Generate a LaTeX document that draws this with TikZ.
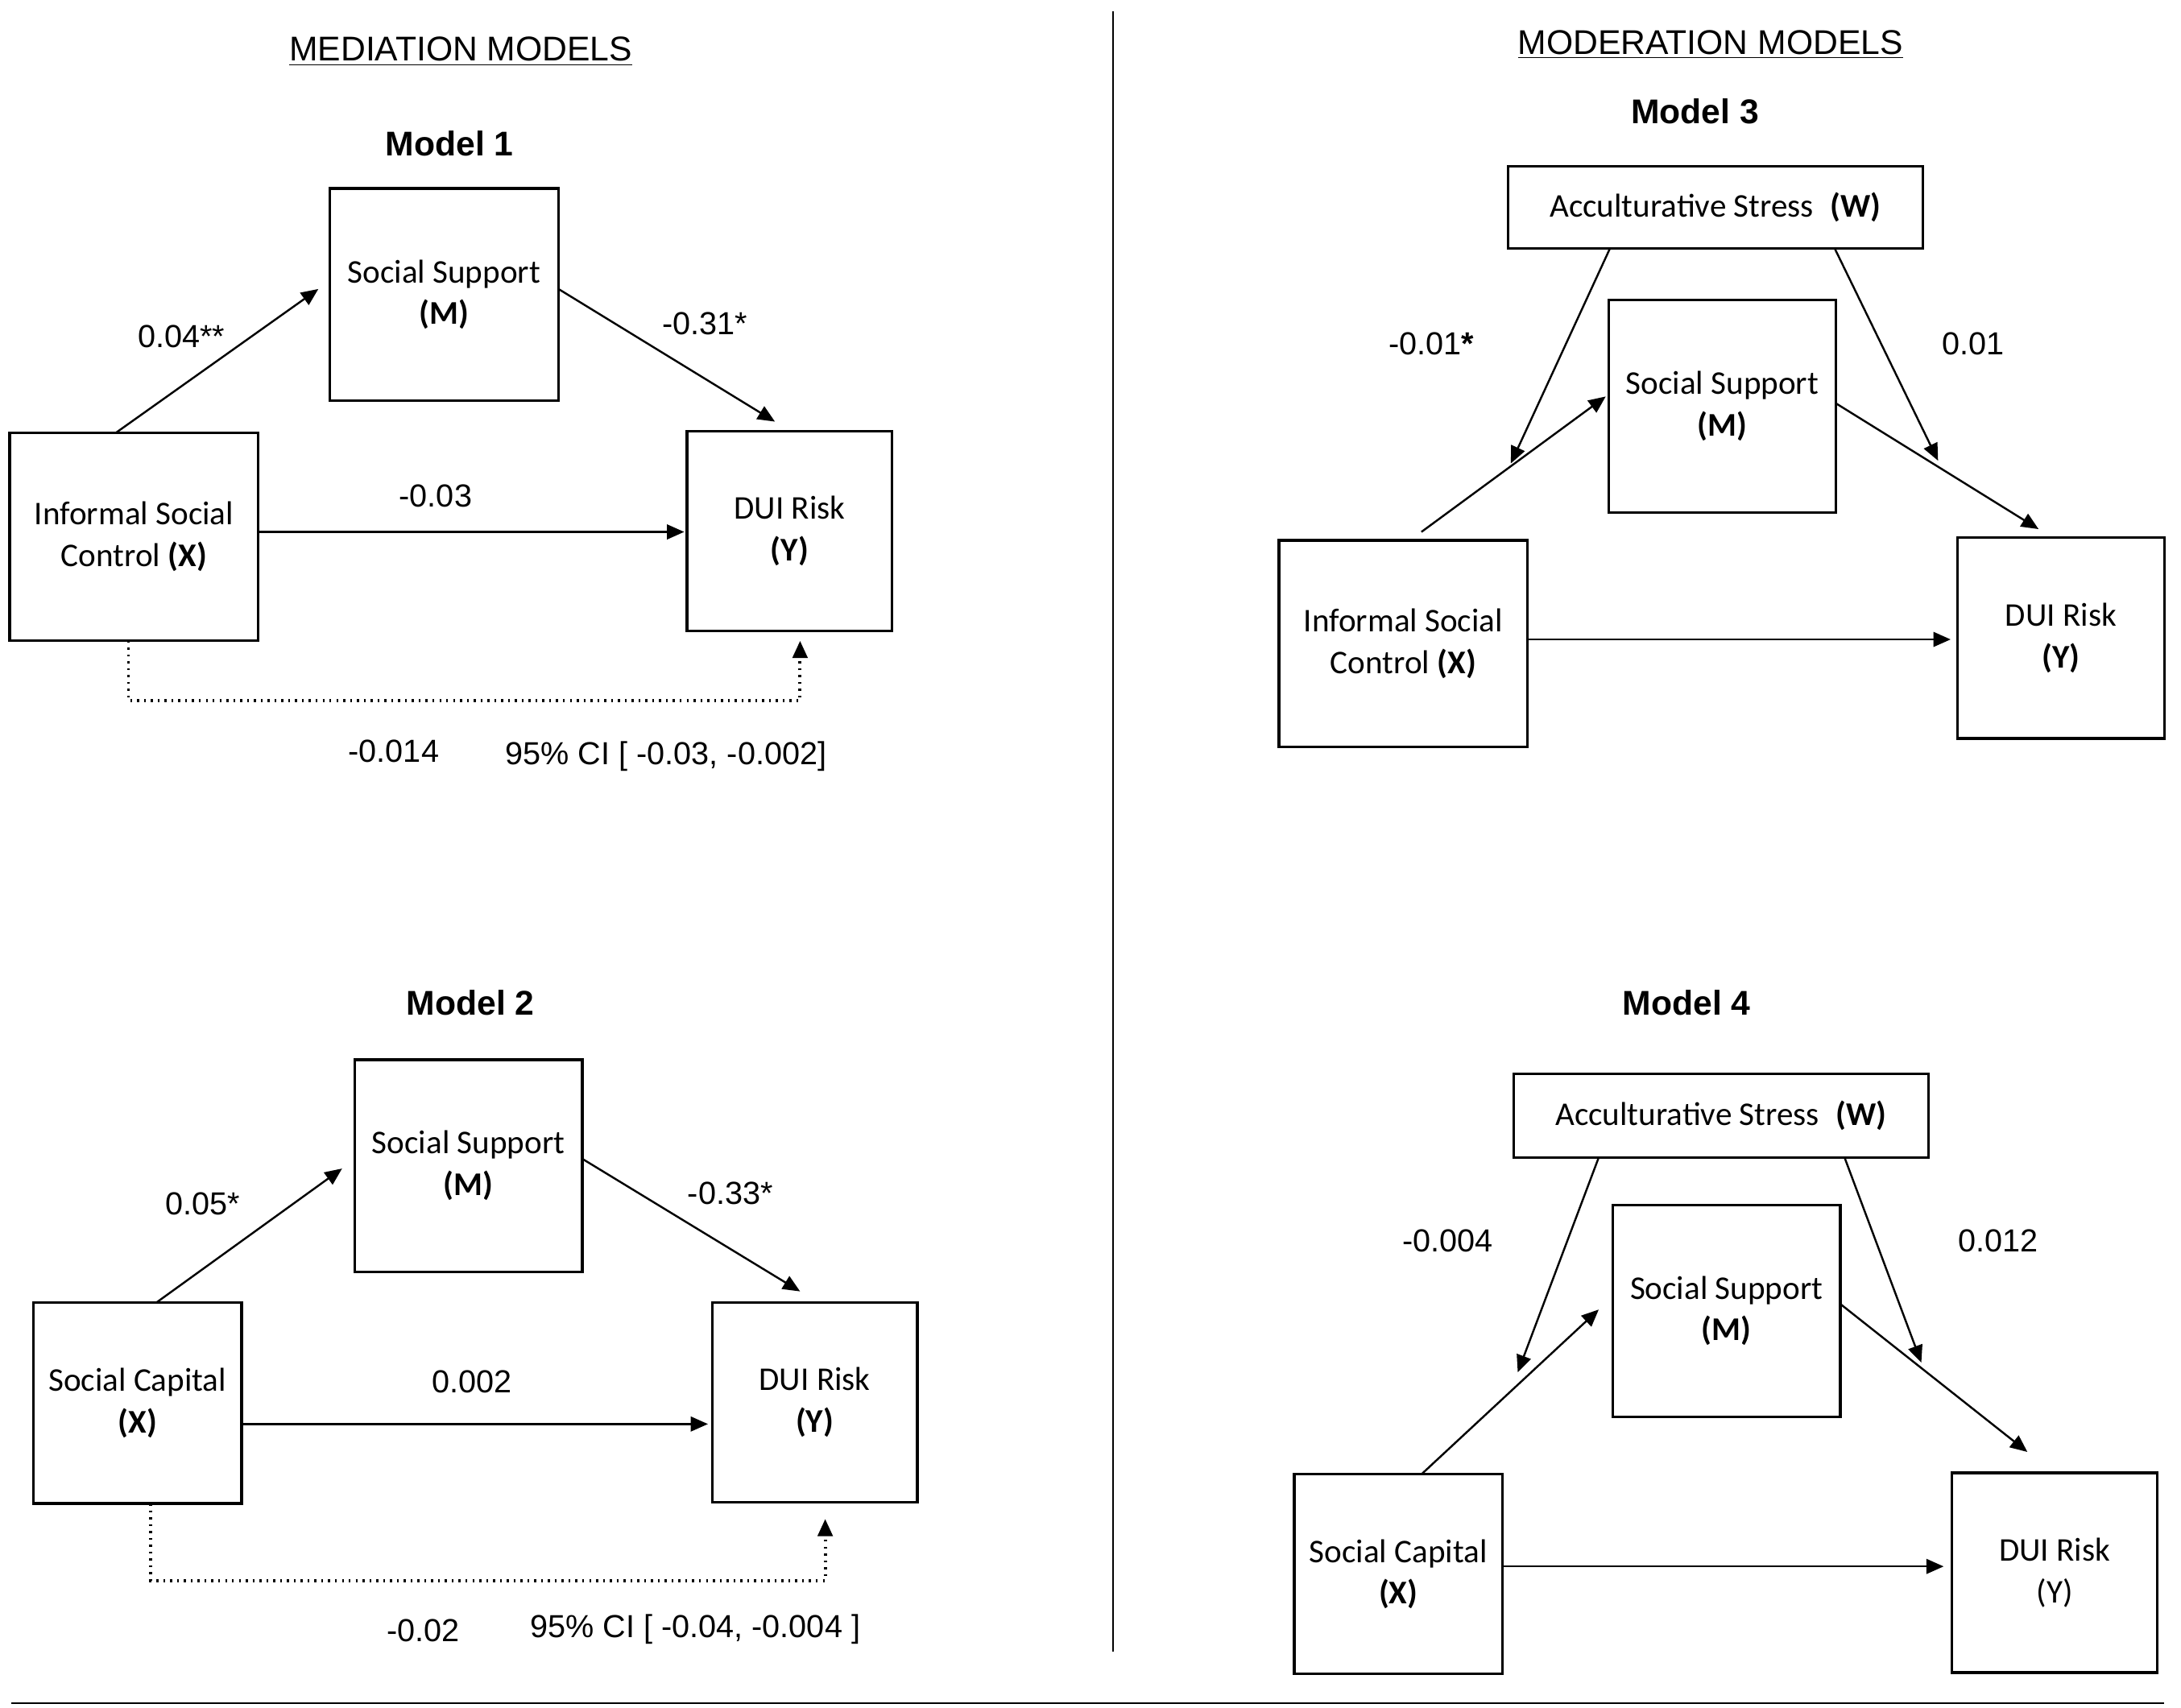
\documentclass[tikz,border=0pt]{standalone}
\usepackage{fontspec}
\setmainfont{Liberation Sans}
\newfontfamily\boxfont{Carlito}
\usetikzlibrary{arrows.meta}
\begin{document}
\begin{tikzpicture}[x=0.02cm,y=-0.02cm,
 box/.style={draw,line width=1.1pt,inner sep=0pt,align=center,font=\boxfont\fontsize{13.5}{17}\selectfont},
 arr/.style={-{Triangle[length=7pt,width=6pt]},line width=0.8pt},
 dot/.style={arr,dotted,line width=1.3pt},
 lab/.style={font=\fontsize{13}{15}\selectfont},
 ttl/.style={font=\bfseries\fontsize{14}{16}\selectfont},
 hdr/.style={font=\fontsize{14}{16}\selectfont}]
\useasboundingbox (0,0) rectangle (1562,1223);
\draw[line width=0.8pt] (797,8) -- (797,1183);
\draw[line width=0.8pt] (8,1220) -- (1550,1220);
\node[hdr] (h1) at (330,37) {\underline{MEDIATION MODELS}};
\node[hdr] (h2) at (1225,32) {\underline{MODERATION MODELS}};
% Model 1
\node[ttl] (t1) at (322,103) {Model 1};
\node[box,minimum width=164\pgflinewidth*0+3.28cm,minimum height=3.04cm] (m1) at (318,211) {Social Support\\\textbf{(M)}};
\node[box,minimum width=3.56cm,minimum height=2.98cm] (x1) at (96,384.5) {Informal Social\\Control \textbf{(X)}};
\node[box,minimum width=2.94cm,minimum height=2.86cm] (y1) at (565.5,380.5) {DUI Risk\\\textbf{(Y)}};
\draw[arr] (83,310) -- (228,207);
\draw[arr] (400,207) -- (555,302);
\draw[arr] (185,381) -- (490,381);
\draw[dot] (92,459) -- (92,502) -- (573,502) -- (573,459);
\node[lab] at (130,241) {0.04**};
\node[lab] at (505,232) {-0.31*};
\node[lab] at (312,355) {-0.03};
\node[lab] at (282,538) {-0.014};
\node[lab] at (477,542) {95\% CI [ -0.03, -0.002]};
% Model 2
\node[ttl] (t2) at (337,718) {Model 2};
\node[box,minimum width=3.26cm,minimum height=3.04cm] (m2) at (335.5,835) {Social Support\\\textbf{(M)}};
\node[box,minimum width=2.98cm,minimum height=2.88cm] (x2) at (98.5,1005) {Social Capital\\\textbf{(X)}};
\node[box,minimum width=2.94cm,minimum height=2.86cm] (y2) at (583.5,1004.5) {DUI Risk\\\textbf{(Y)}};
\draw[arr] (112,933) -- (245,837);
\draw[arr] (417,830) -- (573,925);
\draw[arr] (173,1020) -- (507,1020);
\draw[dot] (108,1077) -- (108,1132) -- (591,1132) -- (591,1088);
\node[lab] at (145,862) {0.05*};
\node[lab] at (523,855) {-0.33*};
\node[lab] at (338,990) {0.002};
\node[lab] at (303,1168) {-0.02};
\node[lab] at (498,1167) {95\% CI [ -0.04, -0.004 ]};
% Model 3
\node[ttl] (t3) at (1214,80) {Model 3};
\node[box,minimum width=5.94cm,minimum height=1.18cm] (w3) at (1228.5,148.5) {Acculturative Stress\enspace\textbf{(W)}};
\node[box,minimum width=3.26cm,minimum height=3.04cm] (m3) at (1233.5,291) {Social Support\\\textbf{(M)}};
\node[box,minimum width=3.56cm,minimum height=2.96cm] (x3) at (1005,461) {Informal Social\\Control \textbf{(X)}};
\node[box,minimum width=2.96cm,minimum height=2.88cm] (y3) at (1476,457) {DUI Risk\\\textbf{(Y)}};
\draw[arr] (1018,381) -- (1150,284);
\draw[arr] (1315,289) -- (1460,379);
\draw[arr] (1094,458) -- (1397,458);
\draw[arr] (1153,178) -- (1082,332);
\draw[arr] (1314,178) -- (1388,330);
\node[lab] at (1025,246) {-0.01\textbf{*}};
\node[lab] at (1413,246) {0.01};
% Model 4
\node[ttl] (t4) at (1208,718) {Model 4};
\node[box,minimum width=5.94cm,minimum height=1.2cm] (w4) at (1232.5,799) {Acculturative Stress\enspace\textbf{(W)}};
\node[box,minimum width=3.26cm,minimum height=3.04cm] (m4) at (1236.5,939) {Social Support\\\textbf{(M)}};
\node[box,minimum width=2.98cm,minimum height=2.86cm] (x4) at (1001.5,1127.5) {Social Capital\\\textbf{(X)}};
\node[box,minimum width=2.94cm,minimum height=2.86cm] (y4) at (1471.5,1126.5) {DUI Risk\\(Y)};
\draw[arr] (1018,1056) -- (1145,938);
\draw[arr] (1318,934) -- (1452,1040);
\draw[arr] (1076,1122) -- (1392,1122);
\draw[arr] (1145,829) -- (1087,983);
\draw[arr] (1321,829) -- (1376,976);
\node[lab] at (1037,889) {-0.004};
\node[lab] at (1431,889) {0.012};
\end{tikzpicture}
\end{document}
